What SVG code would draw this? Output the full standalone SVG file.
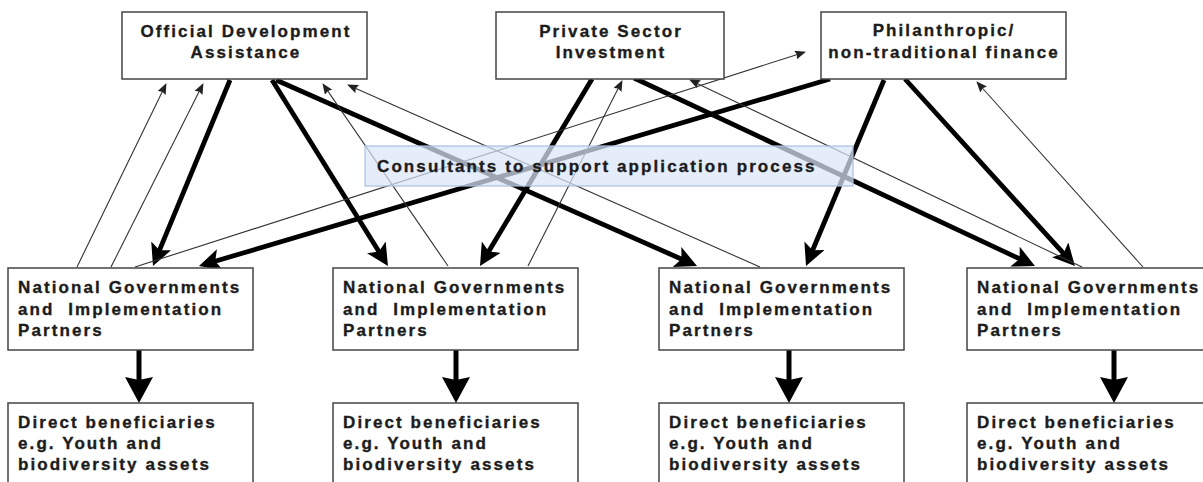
<svg xmlns="http://www.w3.org/2000/svg" width="1203" height="482" viewBox="0 0 1203 482">
  <style>
    .box { fill: #ffffff; stroke: #444444; stroke-width: 1.5; }
    .consult { fill: #dbe6f8; fill-opacity: 0.72; stroke: #a9bfe3; stroke-width: 1.2; }
    .t { font-family: "Liberation Sans", Arial, sans-serif; font-weight: bold; font-size: 17px; letter-spacing: 2.1px; fill: #1c1c1c; stroke: #1c1c1c; stroke-width: 0.35; }
    .c { text-anchor: middle; }
    .thick { stroke: #000000; stroke-width: 4.8; fill: none; marker-end: url(#big); }
    .thin { stroke: #333333; stroke-width: 1.1; fill: none; marker-end: url(#small); }
    .down { stroke: #000000; stroke-width: 5; fill: none; marker-end: url(#drop); }
  </style>
  <defs>
    <marker id="big" markerUnits="userSpaceOnUse" markerWidth="22" markerHeight="22" viewBox="0 0 22 22" refX="6" refY="11" orient="auto">
      <path d="M0,0 L22,11 L0,22 L5,11 z" fill="#000000"/>
    </marker>
    <marker id="small" markerUnits="userSpaceOnUse" markerWidth="11" markerHeight="9" viewBox="0 0 11 9" refX="2" refY="4.5" orient="auto">
      <path d="M0,0 L11,4.5 L0,9 L1.5,4.5 z" fill="#222222"/>
    </marker>
    <marker id="drop" markerUnits="userSpaceOnUse" markerWidth="26" markerHeight="28" viewBox="0 0 26 28" refX="5" refY="14" orient="auto">
      <path d="M0,0 L26,14 L0,28 L3,14 z" fill="#000000"/>
    </marker>
  </defs>

  <!-- funding flows and reporting flows -->
  <g id="connectors">
    <!-- thick: funding from sources to national governments -->
    <line class="thick" x1="230" y1="80" x2="159.1" y2="251.2"/>
    <line class="thick" x1="272" y1="80" x2="379.5" y2="252.4"/>
    <line class="thick" x1="276" y1="80" x2="682.4" y2="259.5"/>
    <line class="thick" x1="592" y1="79" x2="488.2" y2="252.3"/>
    <line class="thick" x1="634" y1="78" x2="1020.5" y2="259.2"/>
    <line class="thick" x1="830" y1="79" x2="214.3" y2="261.5"/>
    <line class="thick" x1="884" y1="80" x2="812.2" y2="251.2"/>
    <line class="thick" x1="905" y1="79" x2="1064.2" y2="254.2"/>
    <!-- thin: applications back to sources -->
    <line class="thin" x1="77" y1="267" x2="162.5" y2="91.2"/>
    <line class="thin" x1="111" y1="267" x2="199.4" y2="91.1"/>
    <line class="thin" x1="448" y1="266" x2="327.5" y2="90.6"/>
    <line class="thin" x1="760" y1="267" x2="355.3" y2="88.2"/>
    <line class="thin" x1="528" y1="266" x2="618.4" y2="88.1"/>
    <line class="thin" x1="1082" y1="267" x2="697.2" y2="83.4"/>
    <line class="thin" x1="135" y1="267" x2="797.4" y2="54.4"/>
    <line class="thin" x1="1143" y1="267" x2="982.3" y2="88"/>
    <!-- down to beneficiaries -->
    <line class="down" x1="139" y1="350" x2="139" y2="382"/>
    <line class="down" x1="456" y1="350" x2="456" y2="382"/>
    <line class="down" x1="789" y1="350" x2="789" y2="382"/>
    <line class="down" x1="1114" y1="350" x2="1114" y2="382"/>
  </g>

  <!-- funding sources -->
  <g id="oda">
    <rect class="box" x="122" y="12" width="245" height="67"/>
    <text class="t c" x="246" y="37">Official Development</text>
    <text class="t c" x="246" y="58">Assistance</text>
  </g>
  <g id="private">
    <rect class="box" x="496" y="12" width="228" height="67"/>
    <text class="t c" x="611" y="37">Private Sector</text>
    <text class="t c" x="611" y="58">Investment</text>
  </g>
  <g id="philanthropic">
    <rect class="box" x="821" y="12" width="245" height="67"/>
    <text class="t c" x="944" y="36">Philanthropic/</text>
    <text class="t c" x="944" y="58">non-traditional finance</text>
  </g>

  <g id="consultants">
    <rect class="consult" x="365" y="146" width="488" height="40"/>
    <text class="t" x="377" y="172">Consultants to support application process</text>
  </g>

  <!-- national governments and implementation partners -->
  <g id="ng1">
    <rect class="box" x="8" y="268" width="245" height="82"/>
    <text class="t" x="18" y="293">National Governments</text>
    <text class="t" x="18" y="314.5" xml:space="preserve">and  Implementation</text>
    <text class="t" x="18" y="336">Partners</text>
  </g>
  <g id="ng2">
    <rect class="box" x="333" y="268" width="245" height="82"/>
    <text class="t" x="343" y="293">National Governments</text>
    <text class="t" x="343" y="314.5" xml:space="preserve">and  Implementation</text>
    <text class="t" x="343" y="336">Partners</text>
  </g>
  <g id="ng3">
    <rect class="box" x="659" y="268" width="245" height="82"/>
    <text class="t" x="669" y="293">National Governments</text>
    <text class="t" x="669" y="314.5" xml:space="preserve">and  Implementation</text>
    <text class="t" x="669" y="336">Partners</text>
  </g>
  <g id="ng4">
    <rect class="box" x="967" y="268" width="250" height="82"/>
    <text class="t" x="977" y="293">National Governments</text>
    <text class="t" x="977" y="314.5" xml:space="preserve">and  Implementation</text>
    <text class="t" x="977" y="336">Partners</text>
  </g>

  <!-- direct beneficiaries -->
  <g id="ben1">
    <rect class="box" x="8" y="403" width="245" height="90"/>
    <text class="t" x="18" y="428">Direct beneficiaries</text>
    <text class="t" x="18" y="449">e.g. Youth and</text>
    <text class="t" x="18" y="470">biodiversity assets</text>
  </g>
  <g id="ben2">
    <rect class="box" x="333" y="403" width="245" height="90"/>
    <text class="t" x="343" y="428">Direct beneficiaries</text>
    <text class="t" x="343" y="449">e.g. Youth and</text>
    <text class="t" x="343" y="470">biodiversity assets</text>
  </g>
  <g id="ben3">
    <rect class="box" x="659" y="403" width="245" height="90"/>
    <text class="t" x="669" y="428">Direct beneficiaries</text>
    <text class="t" x="669" y="449">e.g. Youth and</text>
    <text class="t" x="669" y="470">biodiversity assets</text>
  </g>
  <g id="ben4">
    <rect class="box" x="967" y="403" width="250" height="90"/>
    <text class="t" x="977" y="428">Direct beneficiaries</text>
    <text class="t" x="977" y="449">e.g. Youth and</text>
    <text class="t" x="977" y="470">biodiversity assets</text>
  </g>
</svg>
